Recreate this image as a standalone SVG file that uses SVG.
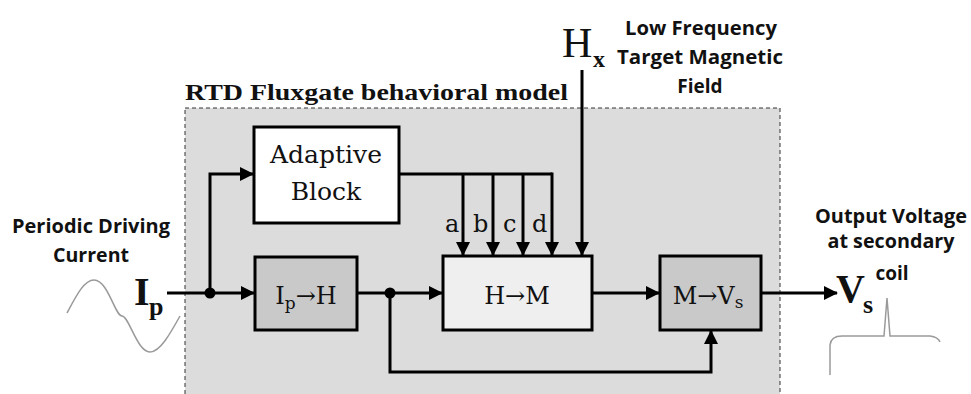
<svg xmlns="http://www.w3.org/2000/svg" width="971" height="394" viewBox="0 0 971 394">
<style>
.blk{stroke:#000;stroke-width:3}
.con{fill:none;stroke:#000;stroke-width:3}
.ser{font-family:"DejaVu Serif","Liberation Serif",serif;fill:#111}
.big{font-family:"Liberation Serif","DejaVu Serif",serif;fill:#111}
.lbl{font-family:"Open Sans","Liberation Sans",sans-serif;font-weight:700;font-size:19px;fill:#111;text-anchor:middle}
.wave{fill:none;stroke:#9a9a9a;stroke-width:1.5}
</style>
<defs>
<marker id="ah" markerUnits="userSpaceOnUse" markerWidth="14" markerHeight="14" refX="13" refY="7" orient="auto">
<path d="M0,0 L14,7 L0,14 z" fill="#000"/>
</marker>
</defs>
<rect width="971" height="394" fill="#fff"/>
<g id="model">
<rect x="185" y="108" width="595" height="290" fill="#dcdcdc" stroke="#333" stroke-width="1" stroke-dasharray="4 3"/>
<text x="185" y="100" class="big" font-size="24" font-weight="700" textLength="383" lengthAdjust="spacingAndGlyphs">RTD Fluxgate behavioral model</text>
</g>
<g id="adaptive">
<rect x="254" y="127" width="145" height="96" fill="#fff" class="blk"/>
<text x="326" y="163" class="ser" font-size="25" text-anchor="middle">Adaptive</text>
<text x="326" y="200" class="ser" font-size="25" text-anchor="middle">Block</text>
</g>
<g id="ip2h">
<rect x="255" y="257" width="102" height="73" fill="#c9c9c9" class="blk"/>
<text x="306" y="304" class="ser" font-size="24" text-anchor="middle">I<tspan font-size="17" dy="5">p</tspan><tspan dy="-5">→H</tspan></text>
</g>
<g id="h2m">
<rect x="443" y="256" width="149" height="74" fill="#efefef" class="blk"/>
<text x="517" y="304" class="ser" font-size="24" text-anchor="middle">H→M</text>
</g>
<g id="m2vs">
<rect x="660" y="256" width="101" height="74" fill="#c9c9c9" class="blk"/>
<text x="708" y="304" class="ser" font-size="24" text-anchor="middle">M→V<tspan font-size="17" dy="4">s</tspan></text>
</g>
<g id="connectors">
<path class="con" d="M167,293 H254" marker-end="url(#ah)"/>
<path class="con" d="M210,293 V174 H253" marker-end="url(#ah)"/>
<path class="con" d="M357,293 H442" marker-end="url(#ah)"/>
<path class="con" d="M390,293 V372 H711 V331" marker-end="url(#ah)"/>
<path class="con" d="M592,293 H659" marker-end="url(#ah)"/>
<path class="con" d="M761,293 H837" marker-end="url(#ah)"/>
<path class="con" d="M399,174 H552"/>
<path class="con" d="M463,174 V255" marker-end="url(#ah)"/>
<path class="con" d="M493,174 V255" marker-end="url(#ah)"/>
<path class="con" d="M523,174 V255" marker-end="url(#ah)"/>
<path class="con" d="M552,172.5 V255" marker-end="url(#ah)"/>
<path class="con" d="M582,70 V255" marker-end="url(#ah)"/>
<circle cx="210" cy="293" r="5.5" fill="#000"/>
<circle cx="390" cy="293" r="5.5" fill="#000"/>
</g>
<g id="abcd" class="ser" font-size="24">
<text x="445" y="232">a</text>
<text x="473" y="232">b</text>
<text x="503" y="232">c</text>
<text x="532" y="232">d</text>
</g>
<g id="hx">
<text x="562" y="57" class="big" font-size="42">H</text>
<text x="593" y="67" class="big" font-size="24" font-weight="700">x</text>
<text x="701" y="35" class="lbl" textLength="152" lengthAdjust="spacingAndGlyphs">Low Frequency</text>
<text x="700" y="64" class="lbl" textLength="166" lengthAdjust="spacingAndGlyphs">Target Magnetic</text>
<text x="700" y="93" class="lbl">Field</text>
</g>
<g id="ip">
<text x="91" y="233" class="lbl" textLength="158" lengthAdjust="spacingAndGlyphs">Periodic Driving</text>
<text x="91" y="262" class="lbl" textLength="76" lengthAdjust="spacingAndGlyphs">Current</text>
<text x="134" y="305" class="big" font-size="40" font-weight="700">I</text>
<text x="149" y="315" class="big" font-size="26" font-weight="700">p</text>
<path class="wave" d="M67,313 C76,296 84,280 94,280 C108,280 115,316 122,316 C129,316 137,352 150,352 C160,352 170,334 180,316"/>
</g>
<g id="vs">
<text x="891" y="223" class="lbl" textLength="152" lengthAdjust="spacingAndGlyphs">Output Voltage</text>
<text x="891" y="248" class="lbl" textLength="127" lengthAdjust="spacingAndGlyphs">at secondary</text>
<text x="892" y="280" class="lbl">coil</text>
<text x="836" y="302" class="big" font-size="40" font-weight="700">V</text>
<text x="863" y="313" class="big" font-size="26" font-weight="700">s</text>
<path class="wave" d="M830,375 V345 Q831,336 842,336 H884 L887,298 L890,336 H930 Q938,337 940,342"/>
</g>
</svg>
